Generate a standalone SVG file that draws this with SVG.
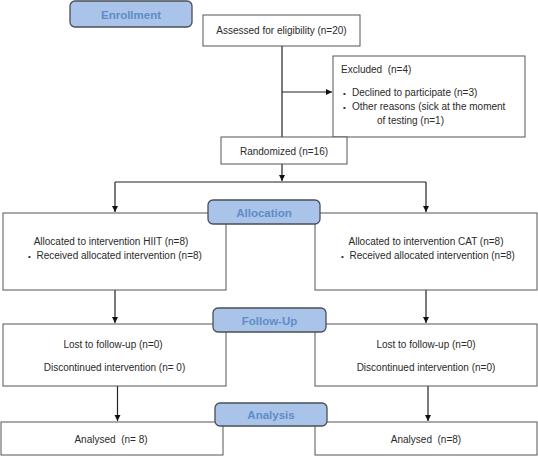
<svg xmlns="http://www.w3.org/2000/svg" width="538" height="457" viewBox="0 0 538 457">
<style>
.box{fill:#fff;stroke:#555;stroke-width:1}
.lab{fill:#a9c4e8;stroke:#4a4f57;stroke-width:1.3}
.lt{font-family:"Liberation Sans",Arial,sans-serif;font-weight:bold;font-size:11.5px;fill:#5f8cc8;text-anchor:middle}
.t{font-family:"Liberation Sans",Arial,sans-serif;font-size:10px;fill:#2a2a2a}
.c{text-anchor:middle}
.b{font-size:8px}
.ln{stroke:#222;stroke-width:1.2;fill:none}
</style>
<defs>
<marker id="ah" markerWidth="8" markerHeight="8" refX="6" refY="3" orient="auto" markerUnits="userSpaceOnUse">
<path d="M0,0 L6,3 L0,6 Z" fill="#111"/>
</marker>
</defs>
<rect width="538" height="457" fill="#fff"/>

<g id="connectors">
<line class="ln" x1="282" y1="46" x2="282" y2="137"/>
<line class="ln" x1="282" y1="92" x2="332" y2="92" marker-end="url(#ah)"/>
<line class="ln" x1="282" y1="164" x2="282" y2="181" marker-end="url(#ah)"/>
<line class="ln" x1="115" y1="182" x2="426" y2="182"/>
<line class="ln" x1="115" y1="182" x2="115" y2="212" marker-end="url(#ah)"/>
<line class="ln" x1="426" y1="182" x2="426" y2="212" marker-end="url(#ah)"/>
<line class="ln" x1="115" y1="290" x2="115" y2="323" marker-end="url(#ah)"/>
<line class="ln" x1="426" y1="290" x2="426" y2="323" marker-end="url(#ah)"/>
<line class="ln" x1="117.5" y1="386" x2="117.5" y2="421" marker-end="url(#ah)"/>
<line class="ln" x1="428" y1="386" x2="428" y2="421" marker-end="url(#ah)"/>
</g>

<g id="assessed">
<rect class="box" x="203" y="15" width="157" height="31"/>
<text class="t c" x="281.5" y="34">Assessed for eligibility (n=20)</text>
</g>

<g id="excluded">
<rect class="box" x="333" y="56" width="192" height="81"/>
<text class="t" x="341" y="73" xml:space="preserve">Excluded  (n=4)</text>
<text class="t b" x="343" y="96">•</text>
<text class="t" x="352" y="96">Declined to participate (n=3)</text>
<text class="t b" x="343" y="110">•</text>
<text class="t" x="352" y="110">Other reasons (sick at the moment</text>
<text class="t" x="377" y="124">of testing (n=1)</text>
</g>

<g id="randomized">
<rect class="box" x="221" y="137" width="126" height="27"/>
<text class="t c" x="284" y="155">Randomized (n=16)</text>
</g>

<g id="alloc-left">
<rect class="box" x="3" y="213" width="223" height="77"/>
<text class="t c" x="111" y="245">Allocated to intervention HIIT (n=8)</text>
<text class="t b" x="28" y="259">•</text>
<text class="t" x="36.5" y="259">Received allocated intervention (n=8)</text>
</g>

<g id="alloc-right">
<rect class="box" x="315" y="213" width="222" height="77"/>
<text class="t c" x="426" y="245">Allocated to intervention CAT (n=8)</text>
<text class="t b" x="341" y="259">•</text>
<text class="t" x="349.5" y="259">Received allocated intervention (n=8)</text>
</g>

<g id="follow-left">
<rect class="box" x="3" y="324" width="223" height="62"/>
<text class="t c" x="113" y="348">Lost to follow-up (n=0)</text>
<text class="t c" x="114.5" y="370.5">Discontinued intervention (n= 0)</text>
</g>

<g id="follow-right">
<rect class="box" x="315" y="324" width="222" height="62"/>
<text class="t c" x="426" y="348">Lost to follow-up (n=0)</text>
<text class="t c" x="426" y="370.5">Discontinued intervention (n=0)</text>
</g>

<g id="analysed-left">
<rect class="box" x="1" y="422" width="222" height="33"/>
<text class="t c" x="111" y="443" xml:space="preserve">Analysed  (n= 8)</text>
</g>

<g id="analysed-right">
<rect class="box" x="315" y="422" width="222" height="33"/>
<text class="t c" x="426" y="443" xml:space="preserve">Analysed  (n=8)</text>
</g>

<g id="enrollment">
<rect class="lab" x="70" y="1" width="122" height="26" rx="5"/>
<text class="lt" x="131" y="18.5">Enrollment</text>
</g>

<g id="allocation">
<rect class="lab" x="208" y="200" width="112" height="24" rx="5"/>
<text class="lt" x="264" y="216.5">Allocation</text>
</g>

<g id="follow-up">
<rect class="lab" x="213" y="308" width="113" height="24" rx="5"/>
<text class="lt" x="269.5" y="324.5">Follow-Up</text>
</g>

<g id="analysis">
<rect class="lab" x="215" y="403" width="112" height="23" rx="5"/>
<text class="lt" x="271" y="419">Analysis</text>
</g>
</svg>
